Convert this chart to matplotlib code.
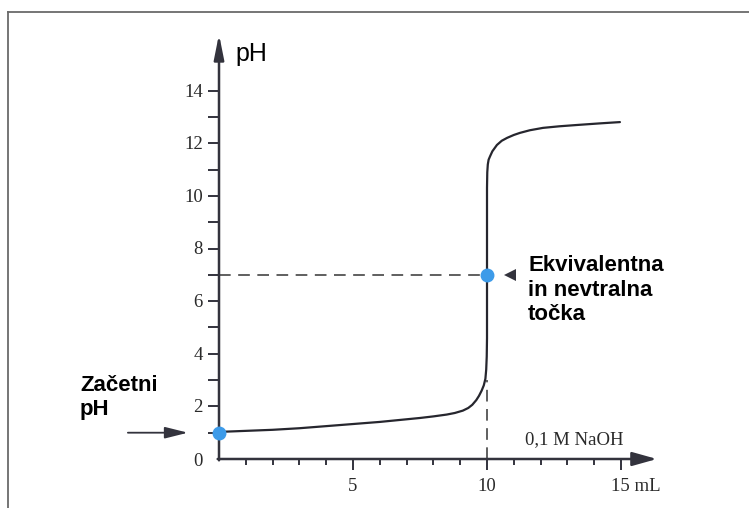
import matplotlib
matplotlib.use('Agg')
import matplotlib.pyplot as plt
from matplotlib.lines import Line2D

# titration curve (mL of 0,1 M NaOH vs pH)
volume = [0, 1, 2, 3, 4, 5, 6, 7, 7.5, 8, 8.5, 8.8, 9.1, 9.3, 9.45, 9.6, 9.7,
          9.8, 9.88, 9.94, 9.97, 9.99, 10.0, 10.0, 10.01, 10.03, 10.06, 10.11,
          10.2, 10.37, 10.55, 10.75, 11.0, 11.23, 11.6, 12.09, 12.7, 13.36,
          14.2, 14.96]
ph = [1.03, 1.07, 1.11, 1.17, 1.25, 1.33, 1.41, 1.51, 1.56, 1.62, 1.69, 1.75,
      1.84, 1.94, 2.06, 2.24, 2.40, 2.60, 2.80, 3.05, 3.4, 3.9, 4.6, 10.3,
      10.9, 11.2, 11.38, 11.5, 11.7, 11.94, 12.1, 12.21, 12.32, 12.4, 12.5,
      12.59, 12.65, 12.7, 12.76, 12.81]

y_ticks = list(range(1, 15))
y_labels = [2, 4, 6, 8, 10, 12, 14]
x_ticks = list(range(1, 16))
x_major = [5, 10, 15]

start_point = (0, 1.0)
equiv_point = (10, 7.0)

dark = '#33333d'
blue = '#3d9be9'
serif = 'Liberation Serif'
sans = 'Liberation Sans'

fig = plt.figure(figsize=(7.49, 5.08), dpi=100)
ax = fig.add_axes([0, 0, 1, 1])
ax.set_xlim(-8.172, 19.776)
ax.set_ylim(-1.863, 17.452)
ax.axis('off')

# frame of the scanned figure
fig.add_artist(Line2D([0.0107, 1.0], [0.976, 0.976], transform=fig.transFigure,
                      color='#6a6a6a', lw=1.3))
fig.add_artist(Line2D([0.0107, 0.0107], [0.0, 0.976], transform=fig.transFigure,
                      color='#6a6a6a', lw=1.3))

# axes with arrow heads
ax.annotate('', xy=(0, 16.15), xytext=(0, -0.05),
            arrowprops=dict(arrowstyle='-|>,head_length=1.5,head_width=0.3',
                            mutation_scale=10, color=dark, lw=1.8,
                            shrinkA=0, shrinkB=0))
ax.annotate('', xy=(16.34, 0), xytext=(-0.05, 0),
            arrowprops=dict(arrowstyle='-|>,head_length=1.5,head_width=0.42',
                            mutation_scale=10, color=dark, lw=1.8,
                            shrinkA=0, shrinkB=0))

# ticks
for t in y_ticks:
    ax.plot([-0.4, 0], [t, t], color=dark, lw=1.4, solid_capstyle='butt')
for t in x_ticks:
    ln = 0.42 if t in x_major else 0.23
    ax.plot([t, t], [0, -ln], color=dark, lw=1.4, solid_capstyle='butt')

for v in y_labels:
    ax.text(-0.6, v - 0.05, str(v), ha='right', va='center', fontsize=13.5,
            family=serif, color='#2a2a2a')
ax.text(-0.6, -0.1, '0', ha='right', va='center', fontsize=13.5,
        family=serif, color='#2a2a2a')
ax.text(5, -1.06, '5', ha='center', va='center', fontsize=13.5,
        family=serif, color='#2a2a2a')
ax.text(10, -1.06, '10', ha='center', va='center', fontsize=13.5,
        family=serif, color='#2a2a2a')
ax.text(14.62, -1.06, '15 mL', ha='left', va='center', fontsize=13.5,
        family=serif, color='#2a2a2a')
ax.text(11.42, 0.72, '0,1 M NaOH', ha='left', va='center', fontsize=13.5,
        family=serif, color='#2a2a2a')
ax.text(0.6, 15.15, 'pH', ha='left', va='baseline', fontsize=18,
        family=sans, color='black')

# dashed guides
ax.plot([0, equiv_point[0]], [equiv_point[1], equiv_point[1]], color='#444444',
        lw=1.2, dashes=(7, 4.5))
ax.plot([10, 10], [0, 3.0], color='#444444', lw=1.2, dashes=(7, 4.5))

# curve
ax.plot(volume, ph, color='#26262e', lw=1.6, solid_joinstyle='round',
        solid_capstyle='round', zorder=3)

ax.plot(*start_point, 'o', color=blue, ms=9, zorder=5, clip_on=False)
ax.plot(*equiv_point, 'o', color=blue, ms=9, zorder=5)

# annotations (baseline of a multi-line text = baseline of its last line)
ax.plot(10.86, 7.0, marker='<', color=dark, ms=9, mew=0)
ax.text(11.53, 5.29, 'Ekvivalentna\nin nevtralna\ntočka', ha='left',
        va='baseline', fontsize=16, fontweight='bold', family=sans,
        linespacing=1.2)

ax.annotate('', xy=(-1.16, 1.0), xytext=(-3.40, 1.0),
            arrowprops=dict(arrowstyle='-|>,head_length=1.4,head_width=0.35',
                            mutation_scale=10, color=dark, lw=1.3,
                            shrinkA=0, shrinkB=0))
ax.text(-5.19, 1.67, 'Začetni\npH', ha='left', va='baseline', fontsize=16,
        fontweight='bold', family=sans, linespacing=1.2)

fig.savefig('out.png', dpi=100, facecolor='white')
